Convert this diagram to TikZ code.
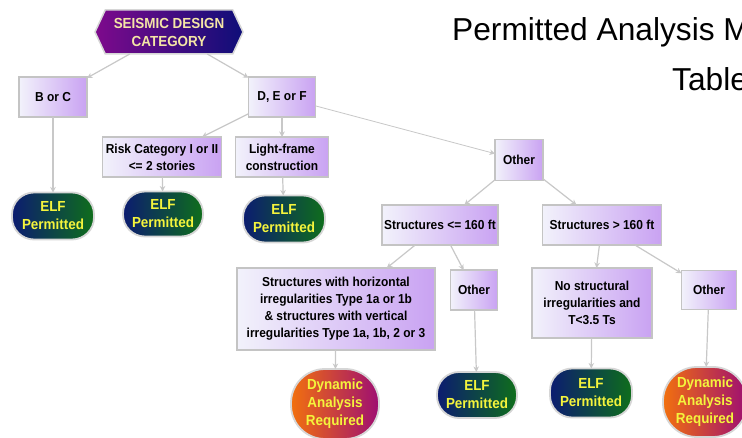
\documentclass[tikz,border=0pt]{standalone}
\usepackage{fontspec}
\setmainfont{Liberation Sans}
\newfontfamily\condfont[FakeStretch=0.92]{Liberation Sans}
\usetikzlibrary{shapes.symbols,arrows.meta}
\definecolor{boxl}{HTML}{F2F2FB}
\definecolor{boxr}{HTML}{C9A2F2}
\definecolor{boxborder}{HTML}{C4C4C4}
\definecolor{termborder}{HTML}{D6D6D6}
\definecolor{elfl}{HTML}{0C1C70}
\definecolor{elfr}{HTML}{0F6E1C}
\definecolor{dynl}{HTML}{F2700E}
\definecolor{dynr}{HTML}{9E0E72}
\definecolor{hexl}{HTML}{7E0A8C}
\definecolor{hexr}{HTML}{0E0E78}
\definecolor{termtext}{HTML}{F4F43C}
\definecolor{hextext}{HTML}{F4E6A6}
\definecolor{arrgray}{HTML}{C8C8C8}
\begin{document}
\begin{tikzpicture}[x=1pt,y=-1pt,
  box/.style={draw=boxborder, line width=1.8pt, left color=boxl, right color=boxr,
    inner sep=1pt, outer sep=0pt, align=center, text=black,
    font=\condfont\bfseries\fontsize{13}{17}\selectfont},
  term/.style={draw=termborder, line width=1.8pt, inner sep=0pt, outer sep=0pt,
    align=center, text=termtext, font=\condfont\bfseries\fontsize{14.6}{18}\selectfont},
  elf/.style={term, left color=elfl, right color=elfr, rounded corners=22pt,
    minimum width=82pt, minimum height=47pt},
  dyn/.style={term, left color=dynl, right color=dynr, rounded corners=34pt,
    minimum width=88pt, minimum height=70pt},
  hexs/.style={shape=signal, signal to=west and east, signal pointer angle=130,
    draw=termborder, line width=1.5pt, left color=hexl, right color=hexr,
    inner sep=0pt, outer sep=0pt, align=center, text=hextext,
    font=\condfont\bfseries\fontsize{14.6}{18}\selectfont},
  arr/.style={draw=arrgray, line width=1.2pt, -{Stealth[length=5.5pt,width=5.5pt]}},
  thinarr/.style={draw=arrgray, line width=0.8pt, -{Stealth[length=5.5pt,width=5.5pt]}},
  titletext/.style={anchor=base west, inner sep=0pt, text=black,
    font=\fontsize{31.7}{38}\selectfont}]
\useasboundingbox (0,0) rectangle (742,438);
\fill[white] (0,0) rectangle (742,438);

% title
\node[titletext] (title) at (452,41) {Permitted Analysis M};
\node[titletext] (table) at (672,91) {Table};

% decision nodes
\node[hexs, minimum width=148pt, minimum height=44pt] (hex) at (169,32) {SEISMIC DESIGN\\CATEGORY};
\node[box, minimum width=68pt, minimum height=40pt] (bc) at (53,97) {B or C};
\node[box, minimum width=67pt, minimum height=40pt] (def) at (282,97) {D, E or F};
\node[box, minimum width=119pt, minimum height=40pt] (risk) at (162,157) {Risk Category I or II\\<= 2 stories};
\node[box, minimum width=93pt, minimum height=40pt] (light) at (282,157) {Light-frame\\construction};
\node[box, minimum width=48pt, minimum height=41pt] (oth1) at (519,160) {Other};
\node[box, minimum width=116pt, minimum height=40pt] (s1) at (440,225) {Structures <= 160 ft};
\node[box, minimum width=119pt, minimum height=40pt] (s2) at (602,225) {Structures > 160 ft};
\node[box, minimum width=198pt, minimum height=82pt] (sw) at (336,309) {Structures with horizontal\\irregularities Type 1a or 1b\\\& structures with vertical\\irregularities Type 1a, 1b, 2 or 3};
\node[box, minimum width=47pt, minimum height=40pt] (oth2) at (474,290) {Other};
\node[box, minimum width=120pt, minimum height=70pt] (ns) at (592,303) {No structural\\irregularities and\\T<3.5 Ts};
\node[box, minimum width=55pt, minimum height=39pt] (oth3) at (709,290) {Other};

% terminals
\node[elf] (elf1) at (53,216) {ELF\\Permitted};
\node[elf, minimum width=80pt, minimum height=45pt] (elf2) at (163,214) {ELF\\Permitted};
\node[elf] (elf3) at (284,219) {ELF\\Permitted};
\node[dyn] (dyn1) at (335,404) {Dynamic\\Analysis\\Required};
\node[elf, minimum width=80pt, minimum height=46pt] (elf4) at (477,395) {ELF\\Permitted};
\node[elf, minimum height=49pt] (elf5) at (591,393) {ELF\\Permitted};
\node[dyn, minimum width=84pt] (dyn2) at (705,402) {Dynamic\\Analysis\\Required};

% connectors
\draw[arr] (hex) -- (bc);
\draw[arr] (hex) -- (def);
\draw[arr] (bc) -- (elf1);
\draw[arr] (def) -- (risk);
\draw[arr] (def) -- (light);
\draw[thinarr] (def) -- (oth1);
\draw[arr] (risk) -- (elf2);
\draw[arr] (light) -- (elf3);
\draw[arr] (oth1) -- (s1);
\draw[arr] (oth1) -- (s2);
\draw[arr] (s1) -- (sw);
\draw[arr] (s1) -- (oth2);
\draw[arr] (s2) -- (ns);
\draw[arr] (s2) -- (oth3);
\draw[arr] (sw) -- (dyn1);
\draw[arr] (oth2) -- (elf4);
\draw[arr] (ns) -- (elf5);
\draw[arr] (oth3) -- (dyn2);
\end{tikzpicture}
\end{document}
